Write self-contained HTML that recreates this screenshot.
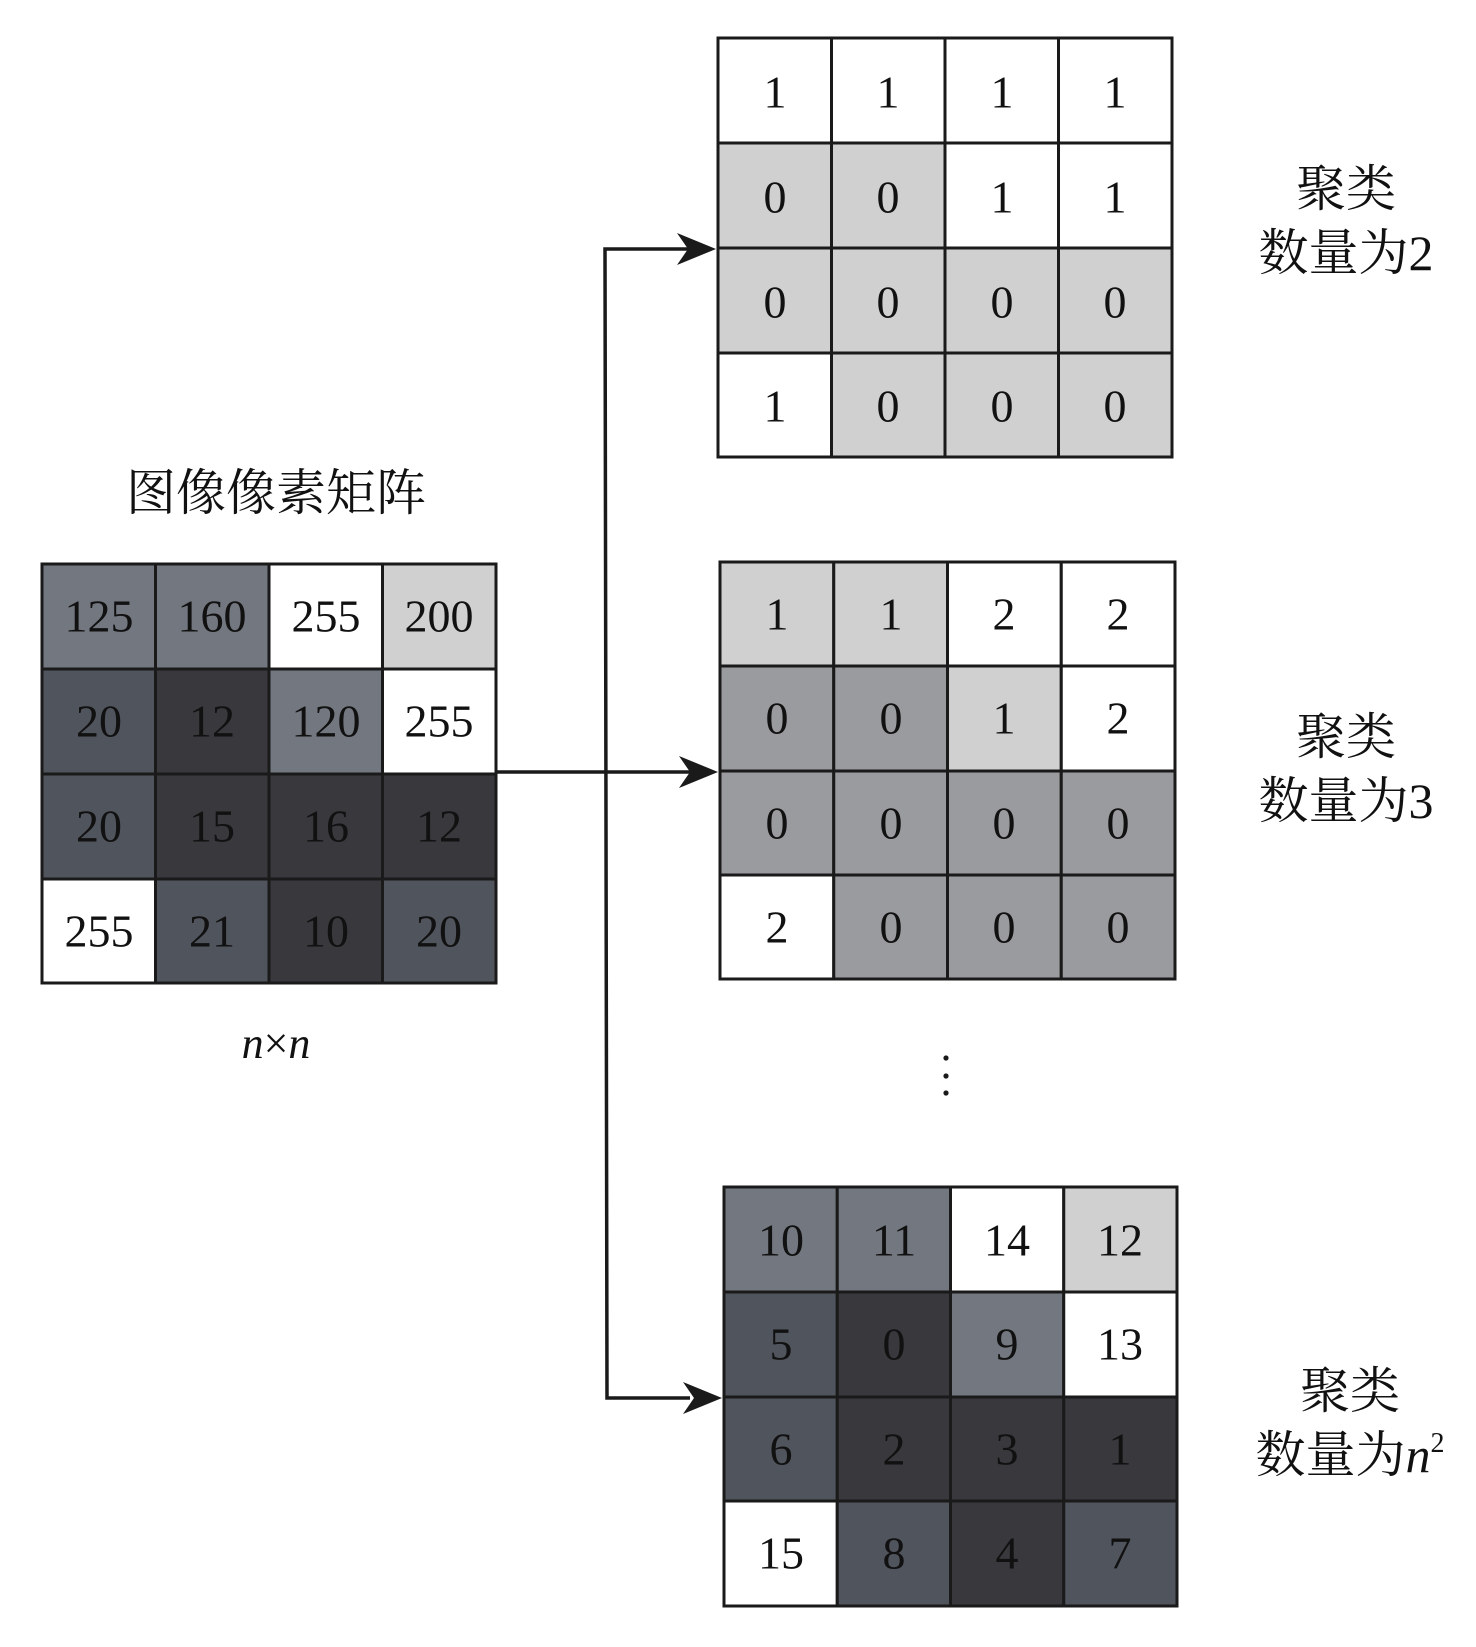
<!DOCTYPE html>
<html><head><meta charset="utf-8"><style>
html,body{margin:0;padding:0;background:#fff;}
svg{display:block;}
.n{font-family:'Liberation Serif','Times New Roman',serif;font-size:46px;fill:#111;text-anchor:middle;dominant-baseline:central;}
.c{font-family:'Liberation Serif','Noto Serif CJK SC',serif;font-size:50px;fill:#111;text-anchor:middle;}
</style></head><body>
<svg width="1476" height="1647" viewBox="0 0 1476 1647" xmlns="http://www.w3.org/2000/svg">
<g stroke="#1a1a1a" stroke-width="3">
<rect x="42" y="564" width="113.5" height="105" fill="#737880"/>
<rect x="155.5" y="564" width="113.5" height="105" fill="#737880"/>
<rect x="269" y="564" width="113.5" height="105" fill="#fff"/>
<rect x="382.5" y="564" width="113.5" height="105" fill="#d0d0d0"/>
<rect x="42" y="669" width="113.5" height="105" fill="#50545c"/>
<rect x="155.5" y="669" width="113.5" height="105" fill="#38383d"/>
<rect x="269" y="669" width="113.5" height="105" fill="#737880"/>
<rect x="382.5" y="669" width="113.5" height="105" fill="#fff"/>
<rect x="42" y="774" width="113.5" height="105" fill="#50545c"/>
<rect x="155.5" y="774" width="113.5" height="105" fill="#38383d"/>
<rect x="269" y="774" width="113.5" height="105" fill="#38383d"/>
<rect x="382.5" y="774" width="113.5" height="105" fill="#38383d"/>
<rect x="42" y="879" width="113.5" height="104" fill="#fff"/>
<rect x="155.5" y="879" width="113.5" height="104" fill="#50545c"/>
<rect x="269" y="879" width="113.5" height="104" fill="#38383d"/>
<rect x="382.5" y="879" width="113.5" height="104" fill="#50545c"/>
</g>
<g class="n" font-family="Liberation Serif, serif">
<text x="99" y="616">125</text><text x="212" y="616">160</text><text x="326" y="616">255</text><text x="439" y="616">200</text>
<text x="99" y="721">20</text><text x="212" y="721">12</text><text x="326" y="721">120</text><text x="439" y="721">255</text>
<text x="99" y="826">20</text><text x="212" y="826">15</text><text x="326" y="826">16</text><text x="439" y="826">12</text>
<text x="99" y="931">255</text><text x="212" y="931">21</text><text x="326" y="931">10</text><text x="439" y="931">20</text>
</g>
<text class="c" x="276" y="510">图像像素矩阵</text>
<text x="276" y="1058" font-family="Liberation Serif,serif" font-size="44" text-anchor="middle" fill="#111"><tspan font-style="italic">n</tspan>×<tspan font-style="italic">n</tspan></text>

<g stroke="#1a1a1a" stroke-width="3">
<rect x="718" y="38" width="113.5" height="105" fill="#fff"/>
<rect x="831.5" y="38" width="113.5" height="105" fill="#fff"/>
<rect x="945" y="38" width="113.5" height="105" fill="#fff"/>
<rect x="1058.5" y="38" width="113.5" height="105" fill="#fff"/>
<rect x="718" y="143" width="113.5" height="105" fill="#d0d0d0"/>
<rect x="831.5" y="143" width="113.5" height="105" fill="#d0d0d0"/>
<rect x="945" y="143" width="113.5" height="105" fill="#fff"/>
<rect x="1058.5" y="143" width="113.5" height="105" fill="#fff"/>
<rect x="718" y="248" width="113.5" height="105" fill="#d0d0d0"/>
<rect x="831.5" y="248" width="113.5" height="105" fill="#d0d0d0"/>
<rect x="945" y="248" width="113.5" height="105" fill="#d0d0d0"/>
<rect x="1058.5" y="248" width="113.5" height="105" fill="#d0d0d0"/>
<rect x="718" y="353" width="113.5" height="104" fill="#fff"/>
<rect x="831.5" y="353" width="113.5" height="104" fill="#d0d0d0"/>
<rect x="945" y="353" width="113.5" height="104" fill="#d0d0d0"/>
<rect x="1058.5" y="353" width="113.5" height="104" fill="#d0d0d0"/>
</g>
<g class="n" font-family="Liberation Serif, serif">
<text x="775" y="92">1</text><text x="888" y="92">1</text><text x="1002" y="92">1</text><text x="1115" y="92">1</text>
<text x="775" y="197">0</text><text x="888" y="197">0</text><text x="1002" y="197">1</text><text x="1115" y="197">1</text>
<text x="775" y="302">0</text><text x="888" y="302">0</text><text x="1002" y="302">0</text><text x="1115" y="302">0</text>
<text x="775" y="406">1</text><text x="888" y="406">0</text><text x="1002" y="406">0</text><text x="1115" y="406">0</text>
</g>

<g stroke="#1a1a1a" stroke-width="3">
<rect x="720" y="562" width="113.75" height="104" fill="#d0d0d0"/>
<rect x="833.75" y="562" width="113.75" height="104" fill="#d0d0d0"/>
<rect x="947.5" y="562" width="113.75" height="104" fill="#fff"/>
<rect x="1061.25" y="562" width="113.75" height="104" fill="#fff"/>
<rect x="720" y="666" width="113.75" height="105" fill="#9a9b9f"/>
<rect x="833.75" y="666" width="113.75" height="105" fill="#9a9b9f"/>
<rect x="947.5" y="666" width="113.75" height="105" fill="#d0d0d0"/>
<rect x="1061.25" y="666" width="113.75" height="105" fill="#fff"/>
<rect x="720" y="771" width="113.75" height="104" fill="#9a9b9f"/>
<rect x="833.75" y="771" width="113.75" height="104" fill="#9a9b9f"/>
<rect x="947.5" y="771" width="113.75" height="104" fill="#9a9b9f"/>
<rect x="1061.25" y="771" width="113.75" height="104" fill="#9a9b9f"/>
<rect x="720" y="875" width="113.75" height="104" fill="#fff"/>
<rect x="833.75" y="875" width="113.75" height="104" fill="#9a9b9f"/>
<rect x="947.5" y="875" width="113.75" height="104" fill="#9a9b9f"/>
<rect x="1061.25" y="875" width="113.75" height="104" fill="#9a9b9f"/>
</g>
<g class="n" font-family="Liberation Serif, serif">
<text x="777" y="614">1</text><text x="891" y="614">1</text><text x="1004" y="614">2</text><text x="1118" y="614">2</text>
<text x="777" y="718">0</text><text x="891" y="718">0</text><text x="1004" y="718">1</text><text x="1118" y="718">2</text>
<text x="777" y="823">0</text><text x="891" y="823">0</text><text x="1004" y="823">0</text><text x="1118" y="823">0</text>
<text x="777" y="927">2</text><text x="891" y="927">0</text><text x="1004" y="927">0</text><text x="1118" y="927">0</text>
</g>

<g stroke="#1a1a1a" stroke-width="3">
<rect x="724" y="1187" width="113.25" height="105" fill="#737880"/>
<rect x="837.25" y="1187" width="113.25" height="105" fill="#737880"/>
<rect x="950.5" y="1187" width="113.25" height="105" fill="#fff"/>
<rect x="1063.75" y="1187" width="113.25" height="105" fill="#d0d0d0"/>
<rect x="724" y="1292" width="113.25" height="105" fill="#50545c"/>
<rect x="837.25" y="1292" width="113.25" height="105" fill="#38383d"/>
<rect x="950.5" y="1292" width="113.25" height="105" fill="#737880"/>
<rect x="1063.75" y="1292" width="113.25" height="105" fill="#fff"/>
<rect x="724" y="1397" width="113.25" height="104" fill="#50545c"/>
<rect x="837.25" y="1397" width="113.25" height="104" fill="#38383d"/>
<rect x="950.5" y="1397" width="113.25" height="104" fill="#38383d"/>
<rect x="1063.75" y="1397" width="113.25" height="104" fill="#38383d"/>
<rect x="724" y="1501" width="113.25" height="105" fill="#fff"/>
<rect x="837.25" y="1501" width="113.25" height="105" fill="#50545c"/>
<rect x="950.5" y="1501" width="113.25" height="105" fill="#38383d"/>
<rect x="1063.75" y="1501" width="113.25" height="105" fill="#50545c"/>
</g>
<g class="n" font-family="Liberation Serif, serif">
<text x="781" y="1240">10</text><text x="894" y="1240">11</text><text x="1007" y="1240">14</text><text x="1120" y="1240">12</text>
<text x="781" y="1344">5</text><text x="894" y="1344">0</text><text x="1007" y="1344">9</text><text x="1120" y="1344">13</text>
<text x="781" y="1449">6</text><text x="894" y="1449">2</text><text x="1007" y="1449">3</text><text x="1120" y="1449">1</text>
<text x="781" y="1553">15</text><text x="894" y="1553">8</text><text x="1007" y="1553">4</text><text x="1120" y="1553">7</text>
</g>

<g stroke="#1a1a1a" stroke-width="3.5" fill="none">
<polyline points="496,772 690,772"/>
<polyline points="690,249 605,249 607,1398 690,1398"/>
</g>
<g fill="#1a1a1a">
<polygon points="716,249 677,233 688,249 677,265"/>
<polygon points="718,772 679,756 690,772 679,788"/>
<polygon points="722,1398 683,1382 694,1398 683,1414"/>
</g>

<g fill="#1a1a1a">
<circle cx="946" cy="1058" r="2.6"/><circle cx="946" cy="1076" r="2.6"/><circle cx="946" cy="1093" r="2.6"/>
</g>

<text class="c" x="1346" y="206">聚类</text>
<text class="c" x="1346" y="270">数量为2</text>
<text class="c" x="1346" y="754">聚类</text>
<text class="c" x="1346" y="818">数量为3</text>
<text class="c" x="1350" y="1408">聚类</text>
<text class="c" x="1350" y="1472">数量为<tspan font-style="italic">n</tspan><tspan font-size="28" dy="-20">2</tspan></text>
</svg>
</body></html>
